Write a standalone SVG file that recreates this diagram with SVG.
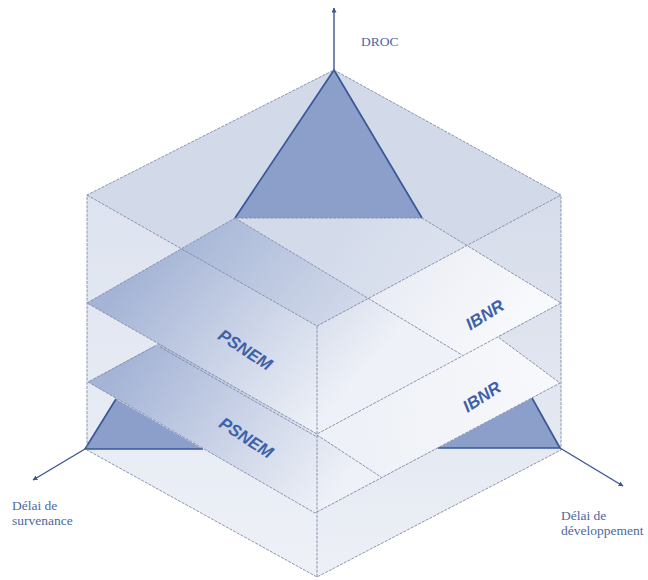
<svg xmlns="http://www.w3.org/2000/svg" width="648" height="580" viewBox="0 0 648 580">
<defs>
<style>
.edge{fill:none;stroke:#7f8aa8;stroke-width:0.9;stroke-dasharray:3 1.2}
.tri{fill:#8c9fcb;stroke:none}
.triedge{fill:none;stroke:#3a5797;stroke-width:1.7;stroke-linejoin:round}
.axis{fill:none;stroke:#3b5592;stroke-width:1.4}
.serif{font-family:"Liberation Serif","DejaVu Serif",serif;font-size:13.5px;fill:#4d68a3}
.tag{font-family:"Liberation Sans","DejaVu Sans",sans-serif;font-size:17px;font-weight:bold;font-style:italic;fill:#3f61a8;text-anchor:middle;dominant-baseline:central}
</style>
<linearGradient id="gLeft" gradientUnits="userSpaceOnUse" x1="0" y1="195" x2="0" y2="577">
<stop offset="0" stop-color="#dde3ef"/><stop offset="1" stop-color="#eef1f7"/>
</linearGradient>
<linearGradient id="gRight" gradientUnits="userSpaceOnUse" x1="0" y1="195" x2="0" y2="577">
<stop offset="0" stop-color="#d6dcea"/><stop offset="1" stop-color="#edf0f6"/>
</linearGradient>
<linearGradient id="gPsU" gradientUnits="userSpaceOnUse" x1="150" y1="255" x2="330" y2="410">
<stop offset="0" stop-color="#a5b4d6"/><stop offset="1" stop-color="#eef1f7"/>
</linearGradient>
<linearGradient id="gPsL" gradientUnits="userSpaceOnUse" x1="130" y1="350" x2="330" y2="500">
<stop offset="0" stop-color="#a4b3d6"/><stop offset="1" stop-color="#eef1f7"/>
</linearGradient>
<linearGradient id="gIbU" gradientUnits="userSpaceOnUse" x1="330" y1="230" x2="510" y2="340">
<stop offset="0" stop-color="#e2e6f0"/><stop offset="1" stop-color="#f8f9fc"/>
</linearGradient>
<linearGradient id="gIbL" gradientUnits="userSpaceOnUse" x1="360" y1="420" x2="540" y2="390">
<stop offset="0" stop-color="#eef1f7"/><stop offset="1" stop-color="#f7f8fb"/>
</linearGradient>
<marker id="arr" viewBox="0 0 10 10" refX="9" refY="5" markerWidth="5" markerHeight="5" orient="auto" markerUnits="userSpaceOnUse">
<path d="M0,0 L10,5 L0,10 z" fill="#3b5592"/>
</marker>
</defs>

<g id="cube-faces">
<polygon points="334,70 561,195 317,326 87,195" fill="#e1e6f1"/>
<polygon points="87,195 317,326 317,577 87,450" fill="url(#gLeft)"/>
<polygon points="317,326 561,195 561,450 317,577" fill="url(#gRight)"/>
</g>

<g id="triangle-bottom-left">
<polygon class="tri" points="85,449 116,399 203,449"/>
<polyline class="triedge" points="116,399 85,449 203,449"/>
</g>
<g id="triangle-bottom-right">
<polygon class="tri" points="560,448 532,398 438,448"/>
<polyline class="triedge" points="532,398 560,448 438,448"/>
</g>

<g id="slab-lower">
<polygon points="88,382 205,318 317,434 381,477 315,513" fill="url(#gPsL)"/>
<polygon points="317,434 400,330 498,337 560,383 381,477" fill="url(#gIbL)"/>
</g>

<g id="slab-upper">
<polygon points="87,303 235,218 462,355 317,434" fill="url(#gPsU)"/>
<polygon points="235,218 422,218 561,303 462,355" fill="url(#gIbU)"/>
</g>

<g id="top-face-tint">
<polygon points="334,70 561,195 317,326 87,195" fill="#a3b3d6" fill-opacity="0.24"/>
</g>

<g id="triangle-top">
<polygon class="tri" points="334,70 235,218 422,218"/>
<polyline class="triedge" points="235,218 334,70 422,218"/>
</g>

<g id="edges">
<polygon class="edge" points="334,70 561,195 561,450 317,577 87,450 87,195"/>
<polyline class="edge" points="87,195 317,326 561,195"/>
<line class="edge" x1="317" y1="326" x2="317" y2="577"/>
<polyline class="edge" points="87,303 235,218 422,218 561,303 317,434 87,303"/>
<line class="edge" x1="235" y1="218" x2="462" y2="355"/>
<line class="edge" x1="160" y1="347" x2="317" y2="437"/>
<polyline class="edge" points="155,346 88,382 315,513 560,383 498,337"/>
<line class="edge" x1="317" y1="435" x2="381" y2="477"/>
</g>

<g id="connectors">
<line class="axis" x1="334" y1="70" x2="334" y2="8" marker-end="url(#arr)"/>
<line class="axis" x1="85" y1="449" x2="33" y2="480" marker-end="url(#arr)"/>
<line class="axis" x1="560" y1="448" x2="623" y2="486" marker-end="url(#arr)"/>
</g>

<g id="labels">
<text class="serif" x="361" y="46">DROC</text>
<text class="serif" x="12" y="510">Délai de</text>
<text class="serif" x="12" y="525">survenance</text>
<text class="serif" x="561" y="520">Délai de</text>
<text class="serif" x="561" y="535">développement</text>
<text class="tag" transform="translate(245,350) rotate(33)">PSNEM</text>
<text class="tag" transform="translate(246,438) rotate(33)">PSNEM</text>
<text class="tag" transform="translate(485,315) rotate(-32)">IBNR</text>
<text class="tag" transform="translate(482,397) rotate(-33)">IBNR</text>
</g>
</svg>
